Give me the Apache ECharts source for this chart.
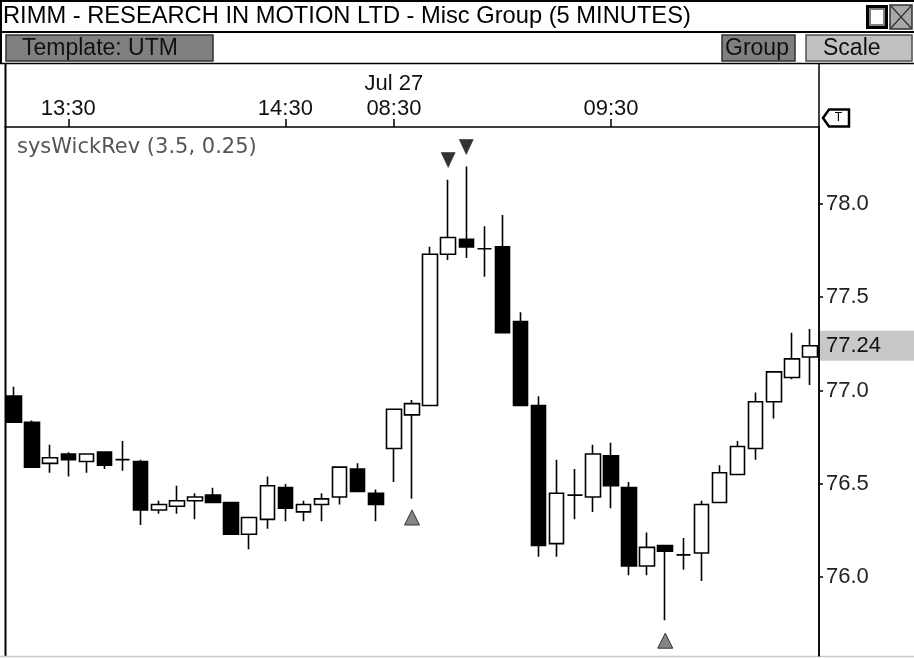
<!DOCTYPE html>
<html>
<head>
<meta charset="utf-8">
<title>RIMM 5 minutes</title>
<script src="https://cdn.jsdelivr.net/npm/echarts@6.0.0/dist/echarts.min.js"></script>
<style>
html, body { margin: 0; padding: 0; background: #fff; }
#mainChart { width: 914px; height: 658px; }
</style>
</head>
<body>
<div id="mainChart"></div>
<script>
// 5 minute bars, Jul 26 afternoon then Jul 27 morning
var times = ['13:15', '13:20', '13:25', '13:30', '13:35', '13:40', '13:45', '13:50', '13:55', '14:00',
    '14:05', '14:10', '14:15', '14:20', '14:25', '14:30', '14:35', '14:40', '14:45', '14:50', '14:55',
    '08:30', '08:35', '08:40', '08:45', '08:50', '08:55', '09:00', '09:05', '09:10', '09:15', '09:20',
    '09:25', '09:30', '09:35', '09:40', '09:45', '09:50', '09:55', '10:00', '10:05', '10:10', '10:15',
    '10:20', '10:25'];
var opens = [76.97, 76.83, 76.61, 76.66, 76.62, 76.67, 76.63, 76.62, 76.36, 76.38,
    76.41, 76.44, 76.40, 76.23, 76.31, 76.48, 76.35, 76.39, 76.43, 76.58, 76.45,
    76.69, 76.87, 76.92, 77.73, 77.81, 77.76, 77.77, 77.37, 76.92, 76.18, 76.44,
    76.43, 76.65, 76.48, 76.06, 76.17, 76.12, 76.13, 76.40, 76.55, 76.69, 76.94,
    77.07, 77.18];
var closes = [76.83, 76.59, 76.64, 76.63, 76.66, 76.60, 76.63, 76.36, 76.39, 76.41,
    76.43, 76.40, 76.23, 76.32, 76.49, 76.37, 76.39, 76.42, 76.59, 76.46, 76.39,
    76.90, 76.93, 77.73, 77.82, 77.77, 77.76, 77.31, 76.92, 76.17, 76.45, 76.44,
    76.66, 76.49, 76.06, 76.16, 76.14, 76.12, 76.39, 76.56, 76.70, 76.94, 77.10,
    77.17, 77.24];
var lows = [76.83, 76.59, 76.56, 76.54, 76.56, 76.58, 76.57, 76.28, 76.34, 76.34,
    76.31, 76.40, 76.23, 76.15, 76.26, 76.30, 76.30, 76.30, 76.39, 76.46, 76.30,
    76.51, 76.42, 76.92, 77.70, 77.71, 77.61, 77.31, 76.92, 76.11, 76.11, 76.31,
    76.35, 76.37, 76.01, 76.01, 75.77, 76.04, 75.98, 76.40, 76.55, 76.63, 76.85,
    77.06, 77.03];
var highs = [77.02, 76.84, 76.71, 76.67, 76.66, 76.67, 76.73, 76.63, 76.41, 76.49,
    76.45, 76.48, 76.40, 76.32, 76.54, 76.50, 76.41, 76.45, 76.59, 76.61, 76.47,
    76.90, 76.95, 77.77, 78.13, 78.20, 77.88, 77.94, 77.42, 76.97, 76.63, 76.58,
    76.71, 76.72, 76.51, 76.24, 76.17, 76.21, 76.41, 76.60, 76.73, 76.99, 77.10,
    77.31, 77.33];

// sysWickRev signals
var sellIdx = [24, 25];
var sellVals = [78.235, 78.305];
var buyIdx = [22, 36];
var buyVals = [76.32, 75.66];

var labelTimes = ['13:30', '14:30', '08:30', '09:30'];
var dayBreak = '08:30';
var dayLabel = 'Jul 27';
var yMin = 75.578, yMax = 78.412;

var titleText = 'RIMM - RESEARCH IN MOTION LTD - Misc Group (5 MINUTES)';
var studyText = 'sysWickRev (3.5, 0.25)';

var font = 'Liberation Sans, Arial, sans-serif';

var candles = [];
for (var i = 0; i < times.length; i++) {
    candles.push([opens[i], closes[i], lows[i], highs[i]]);
}
var sells = [], buys = [];
for (var i = 0; i < sellIdx.length; i++) sells.push([sellIdx[i], sellVals[i]]);
for (var i = 0; i < buyIdx.length; i++) buys.push([buyIdx[i], buyVals[i]]);

var myChart = echarts.init(document.getElementById('mainChart'));

function showTime(idx, value) {
    return labelTimes.indexOf(value) >= 0 || labelTimes.indexOf(times[idx]) >= 0;
}

myChart.setOption({
    animation: false,
    backgroundColor: '#fff',
    grid: {left: 5, right: 95, top: 127, bottom: 2, containLabel: false},
    xAxis: {
        type: 'category',
        position: 'top',
        data: times,
        boundaryGap: true,
        axisLine: {show: true, lineStyle: {color: '#000', width: 1.5}},
        axisTick: {show: true, alignWithLabel: true, interval: showTime, length: 8,
            lineStyle: {color: '#000', width: 1.5}},
        axisLabel: {
            interval: showTime,
            margin: 6,
            color: '#111',
            fontFamily: font,
            fontSize: 22,
            lineHeight: 25,
            formatter: function (value) {
                return value === dayBreak ? dayLabel + '\n' + value : value;
            }
        },
        splitLine: {show: false}
    },
    yAxis: {
        type: 'value',
        position: 'right',
        min: yMin,
        max: yMax,
        scale: true,
        axisLine: {show: true, lineStyle: {color: '#000', width: 1.5}},
        axisTick: {show: true, length: 4, lineStyle: {color: '#000', width: 1.5}},
        axisLabel: {
            margin: 7,
            color: '#222',
            fontFamily: font,
            fontSize: 22,
            showMinLabel: false,
            showMaxLabel: false,
            formatter: function (v) { return v.toFixed(1); }
        },
        splitLine: {show: false}
    },
    series: [{
        name: 'RIMM',
        type: 'candlestick',
        data: candles,
        barWidth: 15,
        itemStyle: {
            color: '#fff',
            color0: '#000',
            borderColor: '#000',
            borderColor0: '#000',
            borderColorDoji: '#000',
            borderWidth: 1.6
        }
    }, {
        name: 'sell',
        type: 'scatter',
        data: sells,
        symbol: 'path://M0,0 L10,0 L5,11 Z',
        symbolSize: [14, 15],
        itemStyle: {color: '#333', borderColor: '#222', borderWidth: 0.5, opacity: 1},
        z: 5
    }, {
        name: 'buy',
        type: 'scatter',
        data: buys,
        symbol: 'path://M5,0 L10,11 L0,11 Z',
        symbolSize: [15, 15],
        itemStyle: {color: '#858585', borderColor: '#333', borderWidth: 1, opacity: 1},
        z: 5
    }]
});

var lastY = myChart.convertToPixel({yAxisIndex: 0}, closes[closes.length - 1]);

myChart.setOption({
    graphic: [
        // title bar
        {type: 'line', shape: {x1: 0, y1: 1, x2: 914, y2: 1}, style: {stroke: '#000', lineWidth: 2}},
        {type: 'line', shape: {x1: 1, y1: 0, x2: 1, y2: 64}, style: {stroke: '#000', lineWidth: 2}},
        {type: 'text', left: 3, top: 4, style: {text: titleText, font: '23.7px ' + font, fill: '#000'}},
        {type: 'rect', shape: {x: 866, y: 5, width: 22, height: 24}, style: {fill: '#000'}},
        {type: 'rect', shape: {x: 870, y: 9, width: 14, height: 16}, style: {fill: '#fff', stroke: '#808080', lineWidth: 2}},
        {type: 'rect', shape: {x: 890, y: 5, width: 22, height: 24}, style: {fill: '#a8a8a8', stroke: '#303030', lineWidth: 1.5}},
        {type: 'line', shape: {x1: 891, y1: 6, x2: 911, y2: 28}, style: {stroke: '#303030', lineWidth: 1.2}},
        {type: 'line', shape: {x1: 911, y1: 6, x2: 891, y2: 28}, style: {stroke: '#303030', lineWidth: 1.2}},
        {type: 'line', shape: {x1: 0, y1: 32, x2: 914, y2: 32}, style: {stroke: '#000', lineWidth: 2}},
        // toolbar
        {type: 'rect', shape: {x: 6, y: 35, width: 207, height: 26}, style: {fill: '#808080', stroke: '#303030', lineWidth: 1.5}},
        {type: 'text', left: 22, top: 37, style: {text: 'Template: UTM', font: '23px ' + font, fill: '#111'}},
        {type: 'rect', shape: {x: 722, y: 35, width: 73, height: 26}, style: {fill: '#808080', stroke: '#303030', lineWidth: 1.5}},
        {type: 'text', left: 725, top: 37, style: {text: 'Group', font: '23px ' + font, fill: '#111'}},
        {type: 'rect', shape: {x: 806, y: 35, width: 106, height: 26}, style: {fill: '#c0c0c0', stroke: '#505050', lineWidth: 1.5}},
        {type: 'text', left: 823, top: 37, style: {text: 'Scale', font: '23px ' + font, fill: '#111'}},
        {type: 'line', shape: {x1: 0, y1: 63.5, x2: 914, y2: 63.5}, style: {stroke: '#000', lineWidth: 1.5}},
        // chart frame
        {type: 'line', shape: {x1: 5.5, y1: 63, x2: 5.5, y2: 656}, style: {stroke: '#000', lineWidth: 2}},
        {type: 'line', shape: {x1: 819, y1: 63, x2: 819, y2: 656}, style: {stroke: '#000', lineWidth: 1.5}},
        {type: 'line', shape: {x1: 0, y1: 656.5, x2: 914, y2: 656.5}, style: {stroke: '#c8c8c8', lineWidth: 1.5}},
        // T tag
        {type: 'polygon', shape: {points: [[823, 118], [829, 109.5], [849, 109.5], [849, 126.5], [829, 126.5]]},
            style: {fill: '#fff', stroke: '#000', lineWidth: 2.5}},
        {type: 'text', x: 838.5, y: 118, style: {text: 'T', font: '12px ' + font, fill: '#000', align: 'center', verticalAlign: 'middle'}},
        // study name
        {type: 'text', left: 17, top: 137, style: {text: studyText, font: '21px DejaVu Sans, sans-serif', fill: '#555'}},
        // last price box
        {type: 'rect', shape: {x: 820, y: lastY - 15, width: 94, height: 30}, style: {fill: '#c8c8c8'}, z: 10},
        {type: 'text', x: 826, y: lastY, z: 11,
            style: {text: closes[closes.length - 1].toFixed(2), font: '22px ' + font, fill: '#111', verticalAlign: 'middle'}}
    ]
});
</script>
</body>
</html>
